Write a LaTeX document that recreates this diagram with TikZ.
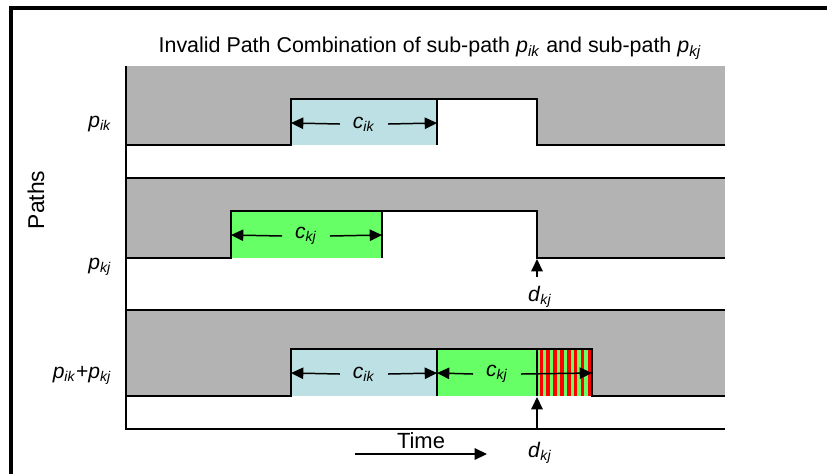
\documentclass[tikz,border=0pt]{standalone}
\usepackage{fontspec}
\setmainfont{Liberation Sans}
\usetikzlibrary{arrows.meta}
\usetikzlibrary{positioning}
\definecolor{bandgrey}{RGB}{179,179,179}
\definecolor{cikblue}{RGB}{188,224,227}
\definecolor{ckjgreen}{RGB}{102,255,102}
\newcommand{\pv}[2]{\textit{#1}\textsubscript{\textit{#2}}}
\tikzset{every picture/.style={line width=0.85pt},
  lbl/.style={font=\fontsize{12}{13}\selectfont,inner sep=1pt},
  dimlbl/.style={font=\fontsize{12}{13}\selectfont,inner xsep=7pt,inner ysep=1pt},
  dim/.style={-{Triangle[length=7pt,width=6.5pt]}},
  band/.style={fill=bandgrey,draw=none},
  sig/.style={line join=miter}}

\begin{document}
\begin{tikzpicture}[x=0.02cm,y=-0.02cm]
\useasboundingbox (0,0) rectangle (827,474);
\draw[line width=2.3pt] (11,474) -- (11,8) -- (827,8);

\node (title) [lbl,font=\fontsize{12.2}{13}\selectfont] at (430,48) {Invalid Path Combination of sub-path \pv{p}{ik} and sub-path \pv{p}{kj}};
\node (paths) [lbl,font=\fontsize{13}{13}\selectfont,rotate=90] at (36,200) {Paths};

% row 1
\fill[band] (126,66) rectangle (725,145);
\fill[white] (291,99) rectangle (537,145);
\fill[cikblue] (291,99) rectangle (437,145);
\draw[sig] (126,145) -- (291,145) -- (291,99) -- (537,99) -- (537,145) -- (725,145);
\draw (437,99) -- (437,145);
\coordinate (a1) at (291,123);
\coordinate (b1) at (437,123);
\node (pik) [lbl] at (100,124) {\pv{p}{ik}};
\node (cik1) [dimlbl] at (364,124) {\pv{c}{ik}};
\draw[dim] (cik1.west) -- (a1);
\draw[dim] (cik1.east) -- (b1);

% row 2
\fill[band] (126,178) rectangle (725,258);
\fill[white] (231,211) rectangle (537,258);
\fill[ckjgreen] (231,211) rectangle (382,258);
\draw[sig] (126,258) -- (231,258) -- (231,211) -- (537,211) -- (537,258) -- (725,258);
\draw (382,211) -- (382,258);
\draw (126,178) -- (725,178);
\coordinate (a2) at (231,235);
\coordinate (b2) at (382,235);
\coordinate (d2) at (537,259);
\node (pkj) [lbl] at (100,267) {\pv{p}{kj}};
\node (ckj1) [dimlbl] at (306,236) {\pv{c}{kj}};
\draw[dim] (ckj1.west) -- (a2);
\draw[dim] (ckj1.east) -- (b2);
\node (dkj1) [lbl] at (540,297) {\pv{d}{kj}};
\draw[dim,shorten <=4pt] (dkj1.north -| d2) -- (d2);

% row 3
\fill[band] (126,310) rectangle (725,396);
\fill[cikblue] (291,349) rectangle (437,396);
\fill[ckjgreen] (437,349) rectangle (592,396);
\foreach \s in {0,...,7}
  \fill[red] (539.5+6.9*\s,349) rectangle ++(3.4,47);
\draw[sig] (126,396) -- (291,396) -- (291,349) -- (592,349) -- (592,396) -- (725,396);
\draw (437,349) -- (437,396);
\draw (537,349) -- (537,396);
\draw (126,310) -- (725,310);
\coordinate (a3) at (291,373);
\coordinate (b3) at (437,373);
\coordinate (e3) at (592,373);
\node (pikpkj) [lbl,anchor=east] at (114,375) {\pv{p}{ik}+\pv{p}{kj}};
\node (cik2) [dimlbl] at (364,374) {\pv{c}{ik}};
\draw[dim] (cik2.west) -- (a3);
\draw[dim] (cik2.east) -- (b3);
\node (ckj2) [dimlbl] at (497,374) {\pv{c}{kj}};
\draw[dim] (ckj2.west) -- (b3);
\draw[dim] (ckj2.east) -- (e3);

% axes
\draw (126,66) -- (126,429) -- (725,429);
\coordinate (d3) at (537,397);
\coordinate (d3foot) at (537,429);
\draw[dim] (d3foot) -- (d3);
\node (dkj2) [lbl] at (540,453) {\pv{d}{kj}};
\node (time) [lbl,font=\fontsize{12.5}{13}\selectfont] at (421,441) {Time};
\coordinate (t0) at (355,454);
\coordinate (t1) at (487,454);
\draw[dim] (t0) -- (t1);
\end{tikzpicture}
\end{document}
